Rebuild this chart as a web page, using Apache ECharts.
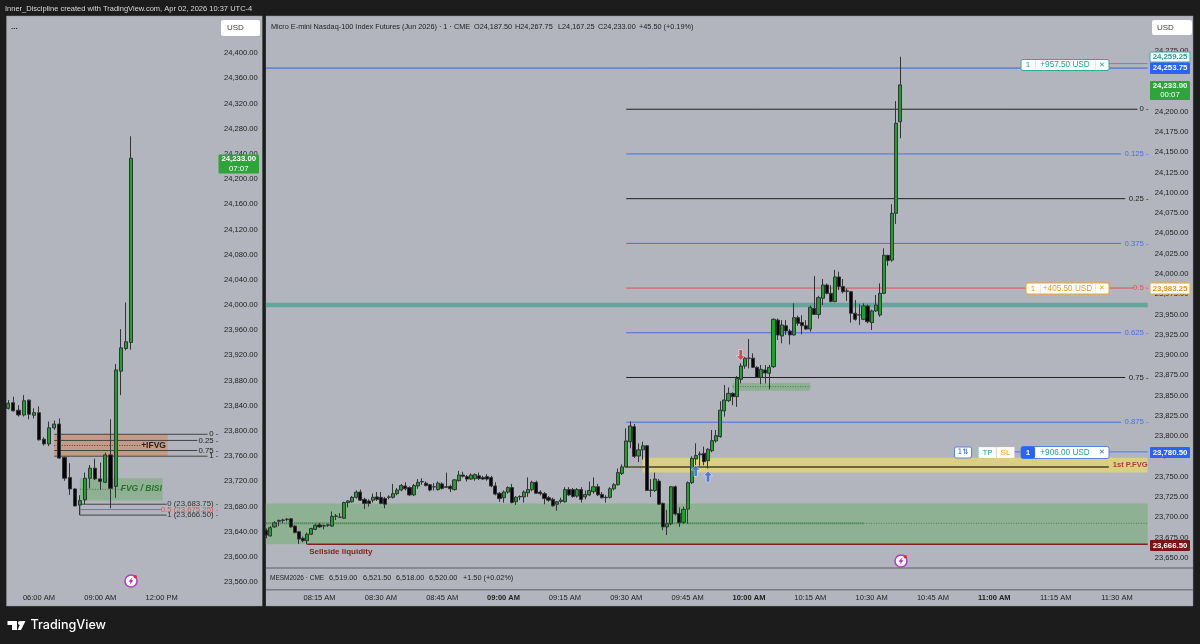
<!DOCTYPE html>
<html><head><meta charset="utf-8">
<style>html,body{margin:0;padding:0;background:#1c1c1c}#c{width:1200px;height:644px}</style>
<script src="https://cdn.jsdelivr.net/npm/echarts@6/dist/echarts.min.js"></script>
</head><body><div id="c"></div>
<script>
// ---------- data : [open, close, low, high]
const leftCandles=[
[23836,23844,23834,23849],[23845,23832,23831,23854.5],[23833,23825.5,23823,23841],[23825.5,23848,23823,23857],
[23849,23826.5,23818.5,23850],[23825,23829,23820,23836],[23829,23786,23785,23839],[23787,23779.5,23777,23790],
[23779.5,23805,23776,23815],[23805,23811,23802,23816.5],[23811,23757,23756,23820],[23758,23725,23721,23759],
[23726,23708,23698.5,23749],[23708,23681,23680.5,23709],[23682.6,23689.5,23666.5,23698],[23690.6,23725,23684,23734],
[23725,23741,23709,23746],[23741,23724,23722,23756],[23724,23720,23706.4,23750],[23718.6,23762,23717,23765.7],
[23762,23709,23677.3,23818.6],[23712,23897,23694,23906.5],[23895,23932,23857,23961.7],[23931,23941.7,23928,24004],
[23940.5,24233,23929,24267.75]];
const rightCandles=[
[23684,23678,23674,23686],[23677,23687,23676,23689],[23688,23693,23687,23695],[23695,23696,23689,23697],
[23696,23696.5,23693,23698],[23697,23697.5,23695,23699],[23698,23688,23687,23699],[23689,23681,23680,23690],
[23682,23673,23667,23683],[23674,23671,23669,23676],[23671,23679,23666.5,23681],[23679,23686,23678,23687],
[23685,23690,23684,23692],[23690.5,23688,23687,23693],[23689,23689.5,23685,23691],[23690,23690.5,23688,23692],
[23689,23701,23688,23707],[23701,23701.5,23696.5,23704],[23700,23700,23699,23705],[23698.6,23718,23698,23719],
[23718,23720,23712,23721],[23719,23724.5,23718,23726],[23724.5,23731,23723,23733],[23731,23721,23720,23734],
[23722,23717,23710,23724],[23720,23717,23713,23722],[23721,23724.5,23718,23729],[23725,23722,23720,23731],
[23724.5,23717,23716,23731],[23723,23716,23711,23725],[23724.5,23725,23722,23727],[23724.5,23729,23723,23741],
[23729,23733.5,23727,23736],[23733.5,23739,23732,23741],[23738.5,23735,23733,23743],[23736.5,23727.5,23726,23738],
[23727.5,23739,23726,23741],[23738.5,23743,23735,23747],[23743.5,23744,23740,23748],[23742,23739,23738,23744],
[23740,23733.5,23732,23741],[23737.5,23737.5,23733,23742],[23734,23742,23733,23744],[23741,23735.5,23734,23743],
[23737.5,23737,23736,23755],[23738,23735,23731,23740],[23734,23746,23733,23747],[23745,23752,23744,23757],
[23752,23750.5,23749,23756],[23750,23747,23744,23752],[23747,23752,23746,23754],[23747.5,23752.5,23745,23754],
[23751,23747.5,23746,23755],[23749,23747,23746,23751],[23750,23747,23745,23753],[23749,23738.5,23737,23751],
[23738.5,23728.5,23727,23743],[23729.5,23723,23719,23731],[23724,23731,23718,23733],[23731,23736.5,23729,23738],
[23736.5,23718,23717,23741],[23719,23724.5,23715,23726],[23725,23725.5,23721,23727],[23725,23731,23718,23733],
[23730,23734,23725,23749],[23734,23743,23732,23745],[23743,23729.5,23729,23745],[23731,23729,23727,23733],
[23729,23723,23716,23731],[23724,23721,23719,23726],[23722,23714,23713,23724],[23716,23719,23708,23720],
[23719.5,23721,23717,23724],[23719,23734,23718,23737],[23734,23727.5,23726,23737],[23734,23725.5,23724,23736],
[23726,23734,23724,23736],[23734,23722,23718,23737],[23725,23728,23722,23733],[23727.5,23733,23726,23744],
[23731.5,23737.5,23729,23749],[23737.5,23727.5,23726,23741],[23728,23724,23723,23731],[23724.5,23724,23718,23727],
[23724.5,23735,23723,23737],[23735,23740,23733,23742],[23740,23755,23739,23760],[23754,23762,23752,23765],
[23762,23794,23761,23809.5],[23793,23812.5,23785,23818],[23811.5,23775,23773,23815],[23775.5,23783,23768,23791],
[23783,23788,23771,23793],[23788,23733,23733,23789],[23733.5,23733,23725,23747],[23733,23747,23731,23755],
[23744.5,23716,23715,23747],[23717,23688,23684,23718],[23688,23692,23678,23709],[23692,23737.5,23690,23738.5],
[23737.5,23704,23702,23739],[23704.7,23693,23688,23712],[23693.7,23709.7,23692,23713],[23710,23742.5,23692,23744],
[23742.5,23772.6,23741,23775],[23771.8,23776,23764,23791],[23777,23778,23763.5,23781],[23778.7,23768.5,23764,23787],
[23769.7,23783.7,23760,23785],[23782,23794.4,23780,23807.5],[23794,23800.5,23792,23807.5],[23799.3,23832,23798,23843],
[23831,23844.5,23824,23863],[23843.7,23852.7,23842,23860],[23852.7,23848.6,23838,23854],[23848.6,23871,23836,23874],
[23870,23886.4,23865,23889.7],[23886.4,23896,23883,23899],[23896,23896,23883.5,23919.7],[23896,23884.8,23884,23902],
[23884.8,23872.4,23872,23886],[23872.4,23882.3,23864,23887.7],[23881.5,23877.8,23865,23887.7],[23877.4,23884.8,23857.6,23887.7],
[23885.6,23944,23884,23945],[23943,23924.6,23918.5,23945],[23923.4,23937,23914.4,23943],[23936,23929.6,23924.7,23943],
[23929.6,23924.7,23913,23932],[23924.7,23946,23924,23963.7],[23946,23939,23936,23948.5],[23940,23936,23925.5,23949],
[23936,23932,23931,23943],[23932,23958.8,23928.8,23960.8],[23957.5,23950,23949.3,23997.4],[23950,23970.7,23945,23973],
[23969.9,23986.3,23961.6,23993.7],[23986.3,23976,23974.8,23988],[23976,23965.8,23965,23986],[23965.8,23996.2,23965,24004.8],
[23996.2,23984.3,23980,24002.7],[23984.3,23978,23976,23993.7],[23979,23978.6,23966.6,23982.2],[23978,23951.4,23939.9,23979],
[23951.4,23944,23942.3,23967.8],[23949.3,23949.5,23937,23962.5],[23944,23960.4,23943,23963.7],[23960.4,23941,23939,23962],
[23939.9,23954.3,23930.8,23956],[23954.3,23961.6,23953,23974],[23949.3,23976,23947,23988.4],[23976,24022.9,23975,24031.5],
[24022.9,24016.4,24010,24023.5],[24017,24074.7,24015,24085.8],[24074.7,24185.7,24061.6,24213],[24187.5,24233,24167.25,24267.75]];
const rightTicks=[23650,23675,23700,23725,23750,23775,23800,23825,23850,23875,23900,23925,23950,23975,24000,24025,24050,24075,24100,24125,24150,24175,24200,24225,24250,24275];
const leftTicks=[23560,23600,23640,23680,23720,23760,23800,23840,23880,23920,23960,24000,24040,24080,24120,24160,24200,24240,24280,24320,24360,24400];
const rightTimeLabels=['08:15 AM','08:30 AM','08:45 AM','09:00 AM','09:15 AM','09:30 AM','09:45 AM','10:00 AM','10:15 AM','10:30 AM','10:45 AM','11:00 AM','11:15 AM','11:30 AM'];
const leftTimeLabels=['06:00 AM','09:00 AM','12:00 PM'];
const boldTimes=['09:00 AM','10:00 AM','11:00 AM'];
const fibLevels=[['0',24203,'11:35 AM','#222'],['0.125',24147.9,'11:31 AM','#4a6fe0'],['0.25',24092.75,'11:32 AM','#222'],['0.375',24037.6,'11:31 AM','#4a6fe0'],['0.5',23982.5,'11:34 AM','#e0505a'],['0.625',23927.4,'11:31 AM','#4a6fe0'],['0.75',23872.25,'11:32 AM','#222'],['0.875',23817.1,'11:31 AM','#4a6fe0']];
const ifvgLevels=[['0',23794.8,'02:15 PM'],['0.25',23785,'01:45 PM'],['0.75',23769,'01:45 PM'],['1',23760,'02:15 PM']];
const lowFib=[['0 (23,683.75)',23683.75,'#333','12:15 PM'],['0.5 (23,675.25)',23675.25,'#e0505a','12:00 PM'],['1 (23,666.50)',23666.5,'#333','12:15 PM']];
const upArrows=[['09:47 AM',23757],['09:50 AM',23750]];
const downArrows=[['09:58 AM',23900]];

// ---------- categories
function fmt(m){let h=Math.floor(m/60),mm=m%60,ap=h>=12?'PM':'AM';let hh=h%12;if(hh===0)hh=12;return String(hh).padStart(2,'0')+':'+String(mm).padStart(2,'0')+' '+ap;}
const rightCats=[];for(let m=8*60+2;m<=11*60+37;m++)rightCats.push(fmt(m));
const leftCats=[];for(let k=0;k<42;k++)leftCats.push(fmt(4*60+30+15*k));

const FONT='"Liberation Sans",Arial,sans-serif';
const TXT='#232326';
const GREEN='#16a626', BLACK='#050505', WICK='#333338';

// ---------- annotations (drawn through axis scales)
const rightBack=[
 {t:'rect',a:null,b:null,top:23717,bot:23666.5,fill:'#8fb193'},
 {t:'rect',a:'09:34 AM',b:null,top:23773.4,bot:23755,fill:'#dbcf82'},
 {t:'rect',a:'09:56 AM',b:'10:15 AM',top:23865.5,bot:23856,fill:'#8fb193'},
 {t:'rect',a:null,b:null,top:23964.5,bot:23958.8,fill:'#62a59b'},
];
const rightLines=[
 {t:'line',a:'08:02 AM',b:'10:28 AM',p:23692.5,color:'#3a7a45',w:2,dash:[1,1]},
 {t:'line',a:'10:28 AM',b:null,p:23692.5,color:'#5e6f5e',w:1,dash:[1,1.5]},
 {t:'line',a:'09:56 AM',b:'10:15 AM',p:23861,color:'#3f7a48',w:1,dash:[1,1.5]},
 {t:'line',a:null,b:null,p:24253.75,color:'#2f66e8',w:1},
 {t:'line',a:'08:12 AM',b:null,p:23666.5,color:'#7c2020',w:1.5},
 {t:'line',a:'09:30 AM',b:'11:28 AM',p:23762,color:'#6a663f',w:2},
 {t:'line',a:'11:28 AM',b:null,p:24259.25,color:'#33a89b',w:1},
 {t:'line',a:'11:28 AM',b:null,p:23983.25,color:'#f5a623',w:1},
 {t:'line',a:'11:00 AM',b:null,p:23780.5,color:'#4a78ee',w:1},
];
fibLevels.forEach(f=>rightLines.push({t:'line',a:'09:30 AM',b:f[2],p:f[1],color:f[3],w:1}));
const rightText=[
 {t:'text',a:'08:12 AM',dx:2,p:23657,text:'Sellside liquidity',fill:'#8a1c1c',font:'bold 8px '+FONT,align:'left'},
 {t:'text',a:'11:37 AM',dx:2,p:23764,text:'1st P.FVG',fill:'#b03a3a',font:'bold 7.6px '+FONT,align:'right'},
];
fibLevels.forEach(f=>rightText.push({t:'text',a:'11:37 AM',dx:3,p:f[1],text:f[0]+' -',fill:f[3],font:'7.8px '+FONT,align:'right'}));

const leftBack=[
 {t:'rect',a:'06:45 AM',b:'12:15 PM',dxb:1,top:23794.8,bot:23760,fill:'#c49b86'},
 {t:'rect',a:'08:00 AM',b:'12:00 PM',dxb:1,top:23725,bot:23689.5,fill:'#8fb193'},
];
const leftLines=[
 {t:'line',a:'06:45 AM',b:'11:00 AM',p:23777,color:'#444',w:1,dash:[1,1.5]},
 {t:'line',a:'08:00 AM',b:'10:00 AM',p:23707.5,color:'#3f7a48',w:1,dash:[1,1.5]},
 {t:'line',a:'08:00 AM',b:'08:00 AM',p:23683.75,p2:23666.5,color:'#444',w:1},
];
ifvgLevels.forEach(f=>leftLines.push({t:'line',a:'06:45 AM',b:f[2],p:f[1],color:'#444',w:1}));
lowFib.forEach(f=>leftLines.push({t:'line',a:'08:00 AM',b:f[3],p:f[1],color:f[2]==='#333'?'#444':f[2],w:1}));
const leftText=[
 {t:'text',a:'11:00 AM',p:23777,text:'+IFVG',fill:'#222',font:'bold 8.5px '+FONT,align:'left'},
 {t:'text',a:'10:00 AM',p:23708,text:'FVG / BISI',fill:'#2b6e2e',font:'italic bold 8.5px '+FONT,align:'left'},
];
ifvgLevels.forEach(f=>leftText.push({t:'text',a:null,dx:-2,p:f[1],text:f[0]+' -',fill:'#222',font:'7.8px '+FONT,align:'right'}));
lowFib.forEach(f=>leftText.push({t:'text',a:null,dx:-2,p:f[1],text:f[0]+' -',fill:f[2],font:'7.8px '+FONT,align:'right'}));

function overlay(g,items,cats,z){
 return {type:'custom',xAxisIndex:g,yAxisIndex:g,z:z,silent:true,animation:false,
  encode:{x:0,y:1},
  data:items.map((d,k)=>[k,d.p!==undefined?d.p:d.top]),
  renderItem:function(params,api){
   const d=items[params.dataIndex],cs=params.coordSys;
   const X=(n,edge)=>n===null||n===undefined?edge:api.coord([cats.indexOf(n),0])[0];
   const Y=v=>api.coord([0,v])[1];
   if(d.t==='rect'){
    const x1=X(d.a,cs.x),x2=X(d.b,cs.x+cs.width)+(d.dxb||0),y1=Y(d.top),y2=Y(d.bot);
    return {type:'rect',shape:{x:x1,y:y1,width:x2-x1,height:y2-y1},style:{fill:d.fill}};
   }
   if(d.t==='line'){
    const y1=Y(d.p),y2=d.p2!==undefined?Y(d.p2):y1;
    return {type:'line',shape:{x1:X(d.a,cs.x),y1:y1,x2:X(d.b,cs.x+cs.width),y2:y2},
     style:{stroke:d.color,lineWidth:d.w,lineDash:d.dash||null}};
   }
   return {type:'text',style:{x:X(d.a,cs.x+cs.width)+(d.dx||0),y:Y(d.p),text:d.text,fill:d.fill,font:d.font,align:d.align,verticalAlign:'middle'}};
  }};
}

function arrows(list,color,up){
 const p=up?'path://M5 0 L10 5 L7 5 L7 12 L3 12 L3 5 L0 5 Z':'path://M3 0 L7 0 L7 7 L10 7 L5 12 L0 7 L3 7 Z';
 return {type:'scatter',xAxisIndex:1,yAxisIndex:1,z:6,silent:true,symbol:p,symbolSize:[9,11],
  itemStyle:{color:color,borderColor:'#e8eaf0',borderWidth:.8},
  data:list.map(a=>[rightCats.indexOf(a[0]),a[1]])};
}

// ---------- chart chrome (frame, tags, buttons: fixed pixels of the page)
function tag(x,y,w,h,bg,stroke,lines,color){
 const out=[{type:'rect',z:60,shape:{x:x,y:y,width:w,height:h,r:1},style:{fill:bg,stroke:stroke,lineWidth:stroke?1:0}}];
 lines.forEach((s,k)=>out.push({type:'text',z:61,x:x+w/2,y:y+h*(k+.5)/lines.length,style:{text:s,fill:color,font:(k?'':'bold ')+'7.8px '+FONT,align:'center',verticalAlign:'middle'}}));
 return out;
}
function label(x,y,s,fill,font,align){return {type:'text',z:61,x:x,y:y,style:{text:s,fill:fill,font:font||('8px '+FONT),align:align||'left',verticalAlign:'middle'}};}
function orderBox(x,w,y,h,stroke,txt,col){
 return [{type:'rect',z:60,shape:{x:x,y:y,width:w,height:h,r:2},style:{fill:'#fff',stroke:stroke,lineWidth:1}},
  label(x+7,y+h/2,'1',col,'8px '+FONT,'center'),
  {type:'rect',z:61,shape:{x:x+14,y:y+1,width:.6,height:h-2},style:{fill:'#d8d8d8'}},
  label(x+14+(w-28)/2,y+h/2,txt,col,'8.2px '+FONT,'center'),
  {type:'rect',z:61,shape:{x:x+w-14,y:y+1,width:.6,height:h-2},style:{fill:'#d8d8d8'}},
  label(x+w-7,y+h/2,'✕',col,'bold 7px "DejaVu Sans"','center')];
}
function icon(cx,cy){return [
 {type:'circle',z:60,shape:{cx:cx,cy:cy,r:6},style:{fill:'#fff',stroke:'#b53bc4',lineWidth:1.5}},
 {type:'polygon',z:61,shape:{points:[[cx+1.5,cy-4],[cx-2.5,cy+.8],[cx-.2,cy+.8],[cx-1.5,cy+4],[cx+2.5,cy-.8],[cx+.2,cy-.8]]},style:{fill:'#a52bc0'}},
 {type:'circle',z:62,shape:{cx:cx+4.3,cy:cy-4.3,r:1.7},style:{fill:'#ee2a3a'}}];}

const PANEL='#b2b5be';
const LG='7.3px '+FONT;
const chrome=[
 {type:'rect',z:-5,shape:{x:6.5,y:16,width:256,height:590},style:{fill:PANEL,stroke:'#8a8c94',lineWidth:.5}},
 {type:'rect',z:-5,shape:{x:265.7,y:16,width:927.3,height:590},style:{fill:PANEL,stroke:'#8a8c94',lineWidth:.5}},
 {type:'rect',z:50,shape:{x:262.6,y:16,width:3.1,height:590},style:{fill:'#1c1c1c'}},
 {type:'rect',z:40,shape:{x:265.7,y:567.3,width:927.3,height:1.5},style:{fill:'#787a82'}},
 {type:'rect',z:40,shape:{x:265.7,y:589,width:927.3,height:1.5},style:{fill:'#787a82'}},
 {type:'text',z:61,x:5,y:9,style:{text:'Inner_Discipline created with TradingView.com, Apr 02, 2026 10:37 UTC-4',fill:'#d8d8d8',font:'7.5px '+FONT,verticalAlign:'middle'}},
 label(271,27,'Micro E-mini Nasdaq-100 Index Futures (Jun 2026) · 1 · CME',TXT,LG),
 label(474,27,'O24,187.50',TXT,LG),label(515,27,'H24,267.75',TXT,LG),label(558,27,'L24,167.25',TXT,LG),label(598,27,'C24,233.00',TXT,LG),label(639,27,'+45.50 (+0.19%)',TXT,LG),
 label(270,578,'MESM2026 · CME',TXT,'6.5px '+FONT),
 label(329,578,'6,519.00',TXT,LG),label(363,578,'6,521.50',TXT,LG),label(396,578,'6,518.00',TXT,LG),label(429,578,'6,520.00',TXT,LG),label(463,578,'+1.50 (+0.02%)',TXT,LG),
 label(11,27,'...',TXT,'bold 8px '+FONT),
 {type:'rect',z:60,shape:{x:221,y:20,width:39,height:16,r:2},style:{fill:'#fff'}},
 label(227,28,'USD','#444','8px '+FONT),
 {type:'rect',z:60,shape:{x:1152,y:20,width:40,height:15,r:2},style:{fill:'#fff'}},
 label(1157,27.5,'USD','#444','8px '+FONT),
 ...tag(218.5,154.5,40.5,19,'#2ea43a',null,['24,233.00','07:07'],'#fff'),
 ...tag(1150,52,40,10,'#fff','#33a89b',['24,259.25'],'#1f9e90'),
 ...tag(1150,62.5,40,11.5,'#2962ff',null,['24,253.75'],'#fff'),
 ...tag(1150,81,40,19,'#2ea43a',null,['24,233.00','00:07'],'#fff'),
 ...tag(1150,283,40,11,'#fff','#f5a623',['23,983.25'],'#e8941a'),
 ...tag(1150,447,40,11,'#2962ff',null,['23,780.50'],'#fff'),
 ...tag(1150,540,40,11,'#7c1414',null,['23,666.50'],'#fff'),
 ...orderBox(1021,88,59.5,11,'#33a89b','+957.50 USD','#1f9e90'),
 ...orderBox(1026,83,283,11,'#f5a623','+405.50 USD','#f09a18'),
 // blue bracket order
 {type:'rect',z:60,shape:{x:954.5,y:447,width:17,height:11,r:2},style:{fill:'#fff',stroke:'#5b82e8',lineWidth:1}},
 label(963,452.5,'1⇅','#2f66e8','7.5px "DejaVu Sans"','center'),
 {type:'rect',z:60,shape:{x:978.5,y:447,width:18,height:11},style:{fill:'#fff',stroke:'#8fd0c8',lineWidth:.7,lineDash:[1,1]}},
 label(987.5,452.5,'TP','#1f9e90','8px '+FONT,'center'),
 {type:'rect',z:60,shape:{x:996.5,y:447,width:18,height:11},style:{fill:'#fff',stroke:'#f5c98a',lineWidth:.7,lineDash:[1,1]}},
 label(1005.5,452.5,'SL','#f09a18','8px '+FONT,'center'),
 {type:'rect',z:60,shape:{x:1021,y:446.5,width:88,height:12,r:2},style:{fill:'#fff',stroke:'#5b82e8',lineWidth:1}},
 {type:'rect',z:61,shape:{x:1021,y:446.5,width:14,height:12,r:2},style:{fill:'#2962ff'}},
 label(1028,452.5,'1','#fff','bold 8px '+FONT,'center'),
 label(1065,452.5,'+906.00 USD','#1f9e90','8.2px '+FONT,'center'),
 label(1102,452.5,'✕','#2f66e8','bold 7px "DejaVu Sans"','center'),
 ...icon(131,581),...icon(901,561),
 // TradingView mark
 {type:'polygon',z:61,shape:{points:[[7.5,621],[17,621],[17,630],[12,630],[12,625],[7.5,625]]},style:{fill:'#fff'}},
 {type:'circle',z:61,shape:{cx:20,cy:623,r:2},style:{fill:'#fff'}},
 {type:'polygon',z:61,shape:{points:[[17.5,630],[21.5,621],[25.5,621],[21,630]]},style:{fill:'#fff'}},
 label(30.5,625.5,'TradingView','#fff','500 12.6px Inter,Roboto,sans-serif'),
];

const timeLabel=list=>({show:true,color:TXT,fontFamily:FONT,fontSize:7.5,
 interval:(i,v)=>list.includes(v),
 formatter:v=>boldTimes.includes(v)&&list===rightTimeLabels?'{b|'+v+'}':v,
 rich:{b:{fontWeight:'bold',color:TXT,fontFamily:FONT,fontSize:7.5}}});
const priceAxis=(g,min,max,ticks,margin)=>({type:'value',gridIndex:g,position:'right',min:min,max:max,scale:true,
 splitLine:{show:false},axisLine:{show:false},axisTick:{show:false},
 axisLabel:{show:true,customValues:ticks,color:TXT,fontFamily:FONT,fontSize:7.6,margin:margin,
  formatter:v=>v.toLocaleString('en-US',{minimumFractionDigits:2,maximumFractionDigits:2})}});
const catAxis=(g,cats,list,margin)=>({type:'category',gridIndex:g,data:cats,boundaryGap:true,
 axisLine:{show:false},axisTick:{show:false},splitLine:{show:false},
 axisLabel:Object.assign(timeLabel(list),{margin:margin,hideOverlap:false})});
const candle=(g,data)=>({type:'candlestick',xAxisIndex:g,yAxisIndex:g,z:3,barWidth:3.6,silent:true,clip:true,
 itemStyle:{color:GREEN,color0:BLACK,borderColor:WICK,borderColor0:WICK,borderColorDoji:WICK,borderWidth:1},
 data:data});

const chart=echarts.init(document.getElementById('c'));
chart.setOption({
 animation:false,backgroundColor:'#1c1c1c',
 tooltip:{show:false},legend:{show:false},
 graphic:{elements:chrome},
 grid:[{left:5.75,top:18,width:214.6,height:572},{left:264.3,top:18,width:883.4,height:550}],
 xAxis:[catAxis(0,leftCats,leftTimeLabels,4),catAxis(1,rightCats,rightTimeLabels,26)],
 yAxis:[priceAxis(0,23547.6,24455.6,leftTicks,3.6),priceAxis(1,23637.35,24315.5,rightTicks,7)],
 series:[
  overlay(0,leftBack,leftCats,1),overlay(0,leftLines,leftCats,2),candle(0,leftCandles),overlay(0,leftText,leftCats,5),
  overlay(1,rightBack,rightCats,1),overlay(1,rightLines,rightCats,2),candle(1,rightCandles),overlay(1,rightText,rightCats,5),
  arrows(upArrows,'#2f66e8',true),arrows(downArrows,'#e0303a',false)
 ]
});
</script></body></html>
